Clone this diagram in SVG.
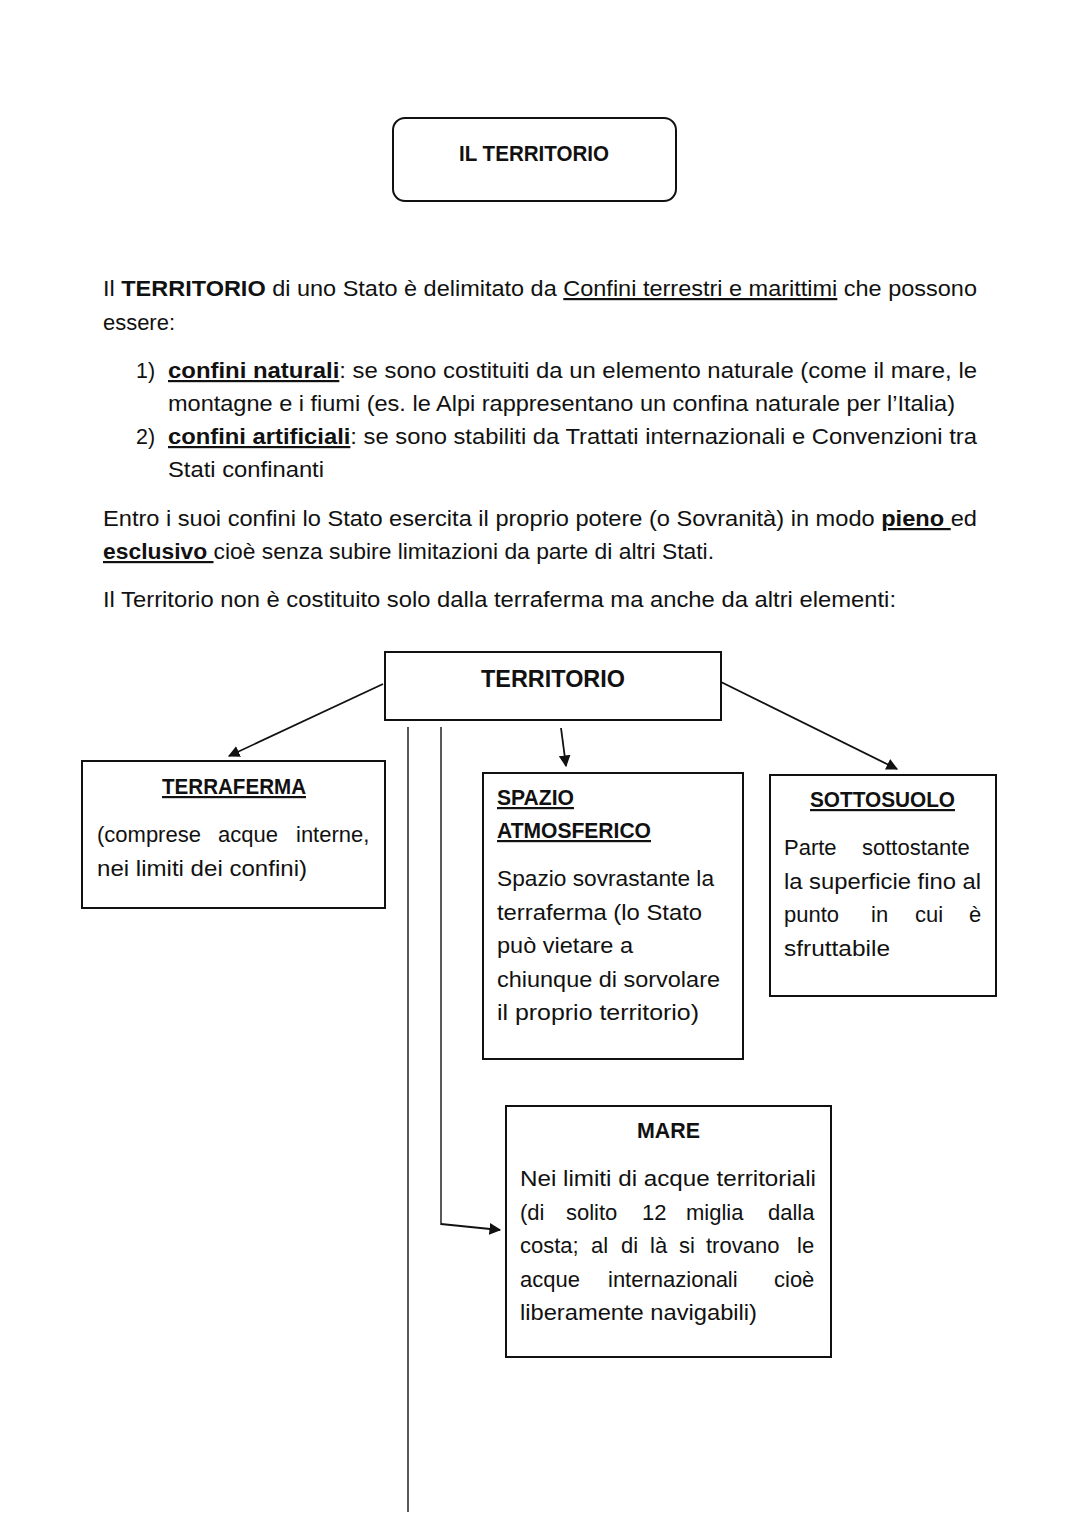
<svg xmlns="http://www.w3.org/2000/svg" width="1080" height="1527" viewBox="0 0 1080 1527">
<style>
text{font-family:"Liberation Sans","Noto Sans",Arial,sans-serif;font-size:22px;fill:#111}
.b{font-weight:bold}
.u{text-decoration:underline}
.box{fill:#fff;stroke:#111;stroke-width:2}
.ln{stroke:#222;stroke-width:1.5;fill:none}
.ar{stroke:#111;stroke-width:1.8;fill:none;marker-end:url(#ah)}
</style>
<defs>
<marker id="ah" viewBox="0 0 10 10" refX="9" refY="5" markerWidth="6.5" markerHeight="6.5" markerUnits="strokeWidth" orient="auto">
<path d="M0,0 L10,5 L0,10 z" fill="#111"/>
</marker>
</defs>
<rect width="1080" height="1527" fill="#fff"/>

<g id="title">
<rect class="box" x="393" y="118" width="283" height="83" rx="12"/>
<text class="b" x="459" y="161" textLength="150" lengthAdjust="spacingAndGlyphs">IL TERRITORIO</text>
</g>

<g id="body">
<text x="103" y="296" textLength="874" lengthAdjust="spacingAndGlyphs">Il <tspan class="b">TERRITORIO</tspan> di uno Stato è delimitato da <tspan class="u">Confini terrestri e marittimi</tspan> che possono</text>
<text x="103" y="330" textLength="72" lengthAdjust="spacingAndGlyphs">essere:</text>
<text x="136" y="378" textLength="19" lengthAdjust="spacingAndGlyphs">1)</text>
<text x="168" y="378" textLength="809" lengthAdjust="spacingAndGlyphs"><tspan class="b u">confini naturali</tspan>: se sono costituiti da un elemento naturale (come il mare, le</text>
<text x="168" y="411" textLength="787" lengthAdjust="spacingAndGlyphs">montagne e i fiumi (es. le Alpi rappresentano un confina naturale per l’Italia)</text>
<text x="136" y="444" textLength="19" lengthAdjust="spacingAndGlyphs">2)</text>
<text x="168" y="444" textLength="809" lengthAdjust="spacingAndGlyphs"><tspan class="b u">confini artificiali</tspan>: se sono stabiliti da Trattati internazionali e Convenzioni tra</text>
<text x="168" y="477" textLength="156" lengthAdjust="spacingAndGlyphs">Stati confinanti</text>
<text x="103" y="526" textLength="874" lengthAdjust="spacingAndGlyphs">Entro i suoi confini lo Stato esercita il proprio potere (o Sovranità) in modo <tspan class="b u">pieno </tspan>ed</text>
<text x="103" y="559" textLength="611" lengthAdjust="spacingAndGlyphs"><tspan class="b u">esclusivo </tspan>cioè senza subire limitazioni da parte di altri Stati.</text>
<text x="103" y="607" textLength="793" lengthAdjust="spacingAndGlyphs">Il Territorio non è costituito solo dalla terraferma ma anche da altri elementi:</text>
</g>

<g id="connectors">
<line class="ar" x1="383" y1="684" x2="229" y2="756"/>
<line class="ar" x1="561" y1="728" x2="566" y2="766"/>
<line class="ar" x1="721" y1="682" x2="897" y2="769"/>
<line class="ln" x1="408" y1="727" x2="408" y2="1512"/>
<line class="ln" x1="441" y1="727" x2="441" y2="1225"/>
<line class="ar" x1="441" y1="1224" x2="500" y2="1230"/>
</g>

<g id="n-territorio">
<rect class="box" x="385" y="652" width="336" height="68"/>
<text class="b" x="481" y="687" textLength="144" lengthAdjust="spacingAndGlyphs" style="font-size:24px">TERRITORIO</text>
</g>

<g id="n-terraferma">
<rect class="box" x="82" y="761" width="303" height="147"/>
<text class="b u" x="162" y="794" textLength="144" lengthAdjust="spacingAndGlyphs">TERRAFERMA</text>
<text y="842"><tspan x="97">(comprese</tspan><tspan x="218">acque</tspan><tspan x="296">interne,</tspan></text>
<text x="97" y="876" textLength="210" lengthAdjust="spacingAndGlyphs">nei limiti dei confini)</text>
</g>

<g id="n-spazio">
<rect class="box" x="483" y="773" width="260" height="286"/>
<text class="b u" x="497" y="805" textLength="77" lengthAdjust="spacingAndGlyphs">SPAZIO</text>
<text class="b u" x="497" y="838" textLength="154" lengthAdjust="spacingAndGlyphs">ATMOSFERICO</text>
<text x="497" y="886" textLength="217" lengthAdjust="spacingAndGlyphs">Spazio sovrastante la</text>
<text x="497" y="920" textLength="205" lengthAdjust="spacingAndGlyphs">terraferma (lo Stato</text>
<text x="497" y="953" textLength="136" lengthAdjust="spacingAndGlyphs">può vietare a</text>
<text x="497" y="987" textLength="223" lengthAdjust="spacingAndGlyphs">chiunque di sorvolare</text>
<text x="497" y="1020" textLength="202" lengthAdjust="spacingAndGlyphs">il proprio territorio)</text>
</g>

<g id="n-sottosuolo">
<rect class="box" x="770" y="775" width="226" height="221"/>
<text class="b u" x="810" y="807" textLength="145" lengthAdjust="spacingAndGlyphs">SOTTOSUOLO</text>
<text y="855"><tspan x="784">Parte</tspan><tspan x="862">sottostante</tspan></text>
<text x="784" y="889" textLength="197" lengthAdjust="spacingAndGlyphs">la superficie fino al</text>
<text y="922"><tspan x="784">punto</tspan><tspan x="871">in</tspan><tspan x="915">cui</tspan><tspan x="969">è</tspan></text>
<text x="784" y="956" textLength="106" lengthAdjust="spacingAndGlyphs">sfruttabile</text>
</g>

<g id="n-mare">
<rect class="box" x="506" y="1106" width="325" height="251"/>
<text class="b" x="637" y="1138" textLength="63" lengthAdjust="spacingAndGlyphs">MARE</text>
<text x="520" y="1186" textLength="296" lengthAdjust="spacingAndGlyphs">Nei limiti di acque territoriali</text>
<text y="1220"><tspan x="520">(di</tspan><tspan x="566">solito</tspan><tspan x="642">12</tspan><tspan x="686">miglia</tspan><tspan x="768">dalla</tspan></text>
<text y="1253"><tspan x="520">costa;</tspan><tspan x="591">al</tspan><tspan x="621">di</tspan><tspan x="650">là</tspan><tspan x="679">si</tspan><tspan x="706">trovano</tspan><tspan x="797">le</tspan></text>
<text y="1287"><tspan x="520">acque</tspan><tspan x="608">internazionali</tspan><tspan x="774">cioè</tspan></text>
<text x="520" y="1320" textLength="237" lengthAdjust="spacingAndGlyphs">liberamente navigabili)</text>
</g>
</svg>
